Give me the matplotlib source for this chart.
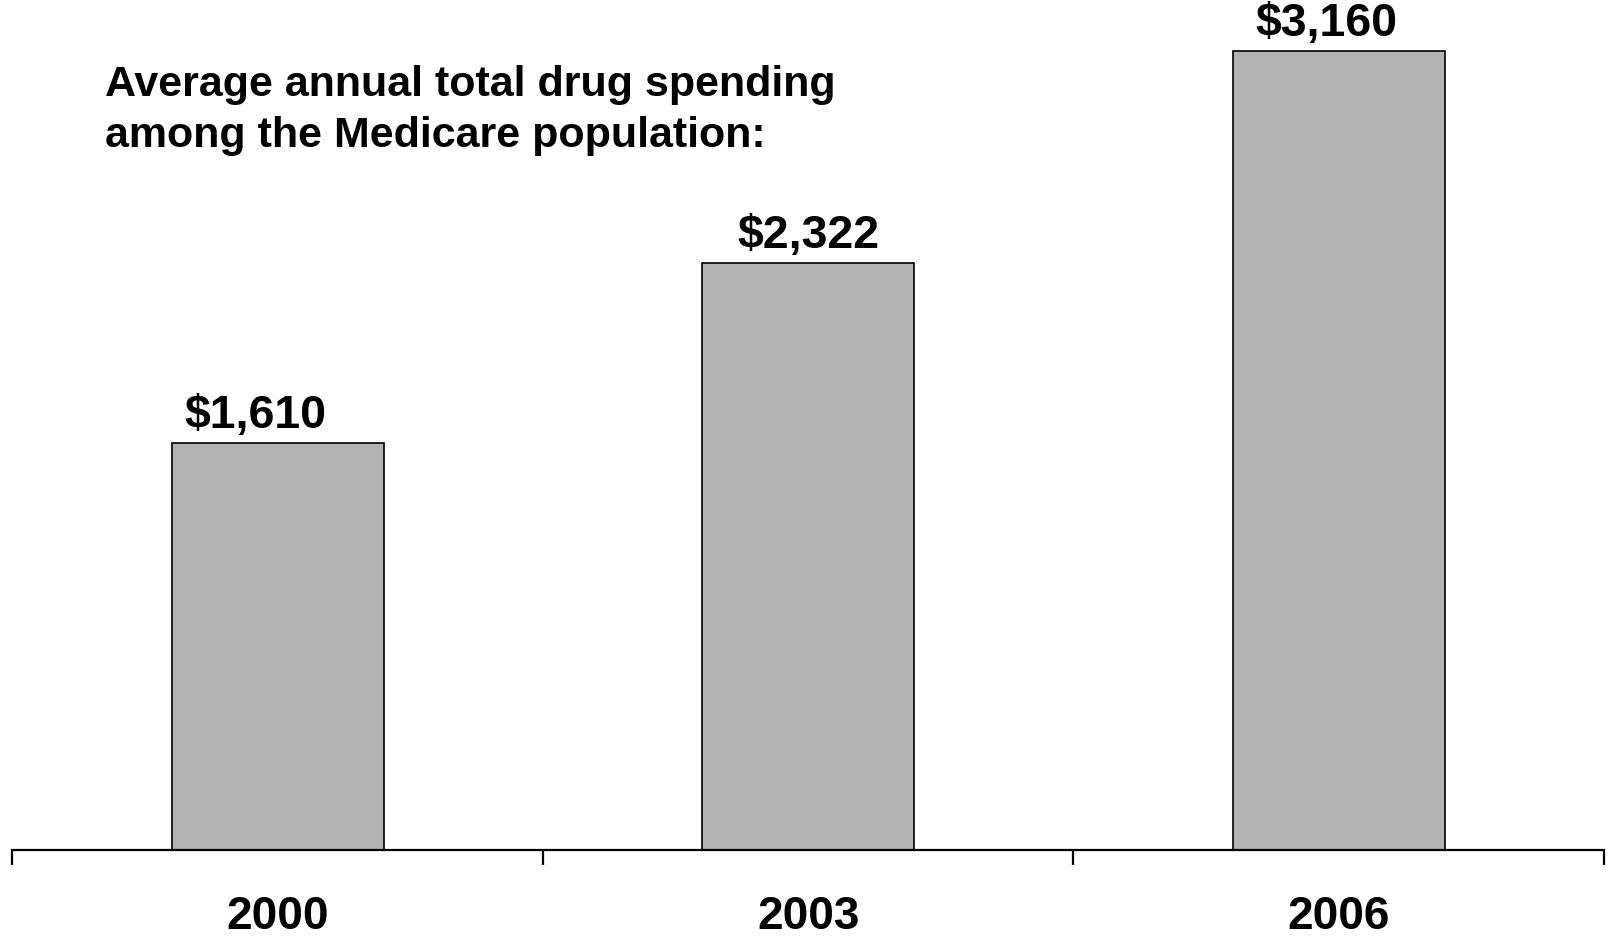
import numpy as np
import matplotlib
matplotlib.use("Agg")
import matplotlib.pyplot as plt

years = ["2000", "2003", "2006"]
spending = [1610, 2322, 3160]
value_labels = ["$1,610", "$2,322", "$3,160"]

plt.rcParams["font.family"] = ["Liberation Sans", "DejaVu Sans"]

fig = plt.figure(figsize=(16.14, 9.37), dpi=100)
ax = fig.add_axes([0.0077, 0.0918, 0.9861, 0.8907])

x = np.arange(len(years))
bars = ax.bar(x, spending, width=0.40, color="#b3b3b3", edgecolor="black", linewidth=1.2)

# labels sit a bit off-centre in the original slide
label_dx = [-16, 0, -9]
for rect, lab, dx in zip(bars, value_labels, label_dx):
    ax.annotate(lab, (rect.get_x() + rect.get_width() / 2, rect.get_height()),
                xytext=(dx, 4), textcoords="offset points",
                ha="center", va="bottom", fontsize=33.5, fontweight="bold")

ax.set_xlim(-0.5, 2.5)
ax.set_ylim(0, 3300)

ax.set_xticks(x)
ax.set_xticklabels(years, fontsize=33, fontweight="bold")
ax.tick_params(axis="x", which="major", length=0, pad=32)
ax.set_xticks([-0.5, 0.5, 1.5, 2.5], minor=True)
ax.tick_params(axis="x", which="minor", length=11, width=1.6, direction="out")
ax.set_yticks([])

for side in ["top", "right", "left"]:
    ax.spines[side].set_visible(False)
ax.spines["bottom"].set_linewidth(1.6)

fig.text(105 / 1614, 1 - 65 / 937,
         "Average annual total drug spending\namong the Medicare population:",
         ha="left", va="top", fontsize=31, fontweight="bold", linespacing=1.35)

fig.savefig("out.png", dpi=100)
